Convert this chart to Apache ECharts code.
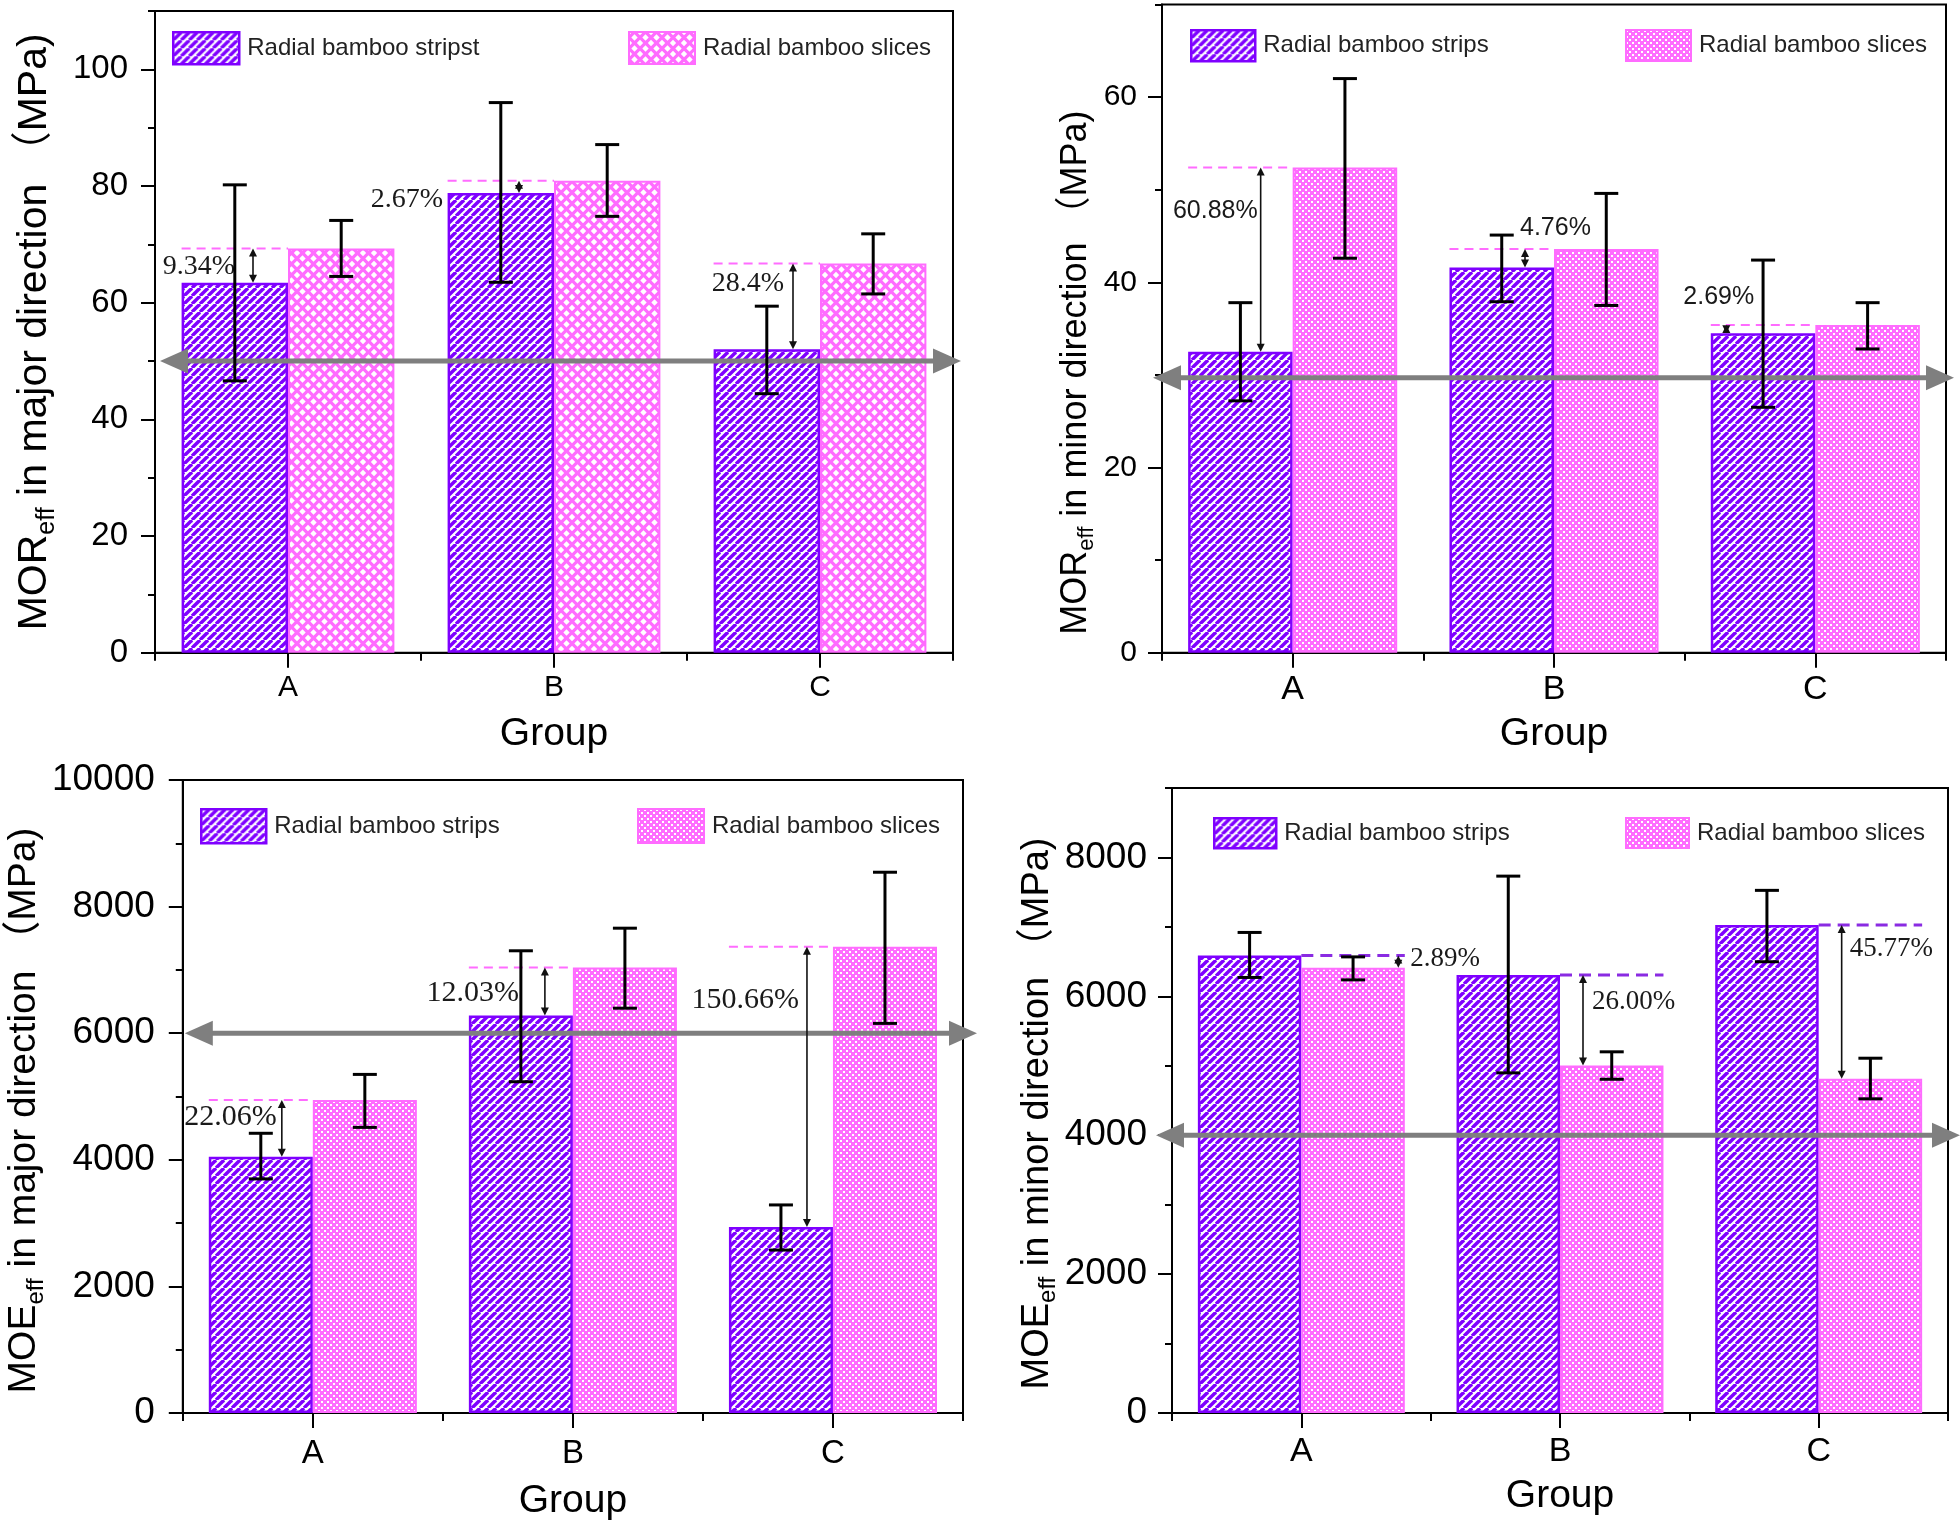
<!DOCTYPE html>
<html><head><meta charset="utf-8">
<script src="https://cdn.jsdelivr.net/npm/echarts@6/dist/echarts.min.js"></script>
<style>html,body{margin:0;padding:0;background:#fff}#c{width:1960px;height:1530px}</style>
</head><body><div id="c"></div>
<script>
// ---------------- DATA ----------------
const categories = ['A', 'B', 'C'];

// Panel 1: MOR_eff in major direction (MPa)
const p1Strips = [63.4, 78.8, 52.0];
const p1Slices = [69.3, 80.9, 66.7];
const p1StripsErr = [[46.6, 80.2], [63.5, 94.3], [44.4, 59.4]];
const p1SlicesErr = [[64.5, 74.1], [74.8, 87.1], [61.5, 71.8]];
const p1Pct = ['9.34%', '2.67%', '28.4%'];
const p1Ticks = [0, 20, 40, 60, 80, 100];
const p1Ref = 50;

// Panel 2: MOR_eff in minor direction (MPa)
const p2Strips = [32.5, 41.6, 34.5];
const p2Slices = [52.4, 43.6, 35.4];
const p2StripsErr = [[27.2, 37.8], [37.9, 45.1], [26.5, 42.4]];
const p2SlicesErr = [[42.6, 62.0], [37.5, 49.6], [32.8, 37.8]];
const p2Pct = ['60.88%', '4.76%', '2.69%'];
const p2Ticks = [0, 20, 40, 60];
const p2Ref = 29.7;

// Panel 3: MOE_eff in major direction (MPa)
const p3Strips = [4050, 6279, 2940];
const p3Slices = [4943, 7039, 7365];
const p3StripsErr = [[3698, 4419], [5233, 7302], [2574, 3287]];
const p3SlicesErr = [[4512, 5349], [6395, 7659], [6155, 8543]];
const p3Pct = ['22.06%', '12.03%', '150.66%'];
const p3Ticks = [0, 2000, 4000, 6000, 8000, 10000];
const p3Ref = 6000;

// Panel 4: MOE_eff in minor direction (MPa)
const p4Strips = [6589, 6307, 7026];
const p4Slices = [6413, 5003, 4813];
const p4StripsErr = [[6272, 6920], [4898, 7731], [6498, 7526]];
const p4SlicesErr = [[6237, 6568], [4806, 5201], [4524, 5109]];
const p4Pct = ['2.89%', '26.00%', '45.77%'];
const p4Ticks = [0, 2000, 4000, 6000, 8000];
const p4Ref = 4000;

// ---------------- STYLE / LAYOUT ----------------
const SANS = '"Liberation Sans", Arial, "Noto Sans CJK SC", sans-serif';
const SERIF = '"Liberation Serif", "Times New Roman", serif';
const PURPLE = '#7f00ff';
const PINK = '#ff6cff';

function stripePattern(color, p, w) {
  const c = document.createElement('canvas'); c.width = p; c.height = p;
  const g = c.getContext('2d');
  g.fillStyle = '#fff'; g.fillRect(0, 0, p, p);
  g.strokeStyle = color; g.lineWidth = w;
  for (const o of [-p, 0, p]) { g.beginPath(); g.moveTo(o, p); g.lineTo(o + p, 0); g.stroke(); }
  return { image: c, repeat: 'repeat' };
}
function crossPattern(color, p, r) {
  const c = document.createElement('canvas'); c.width = p; c.height = p;
  const g = c.getContext('2d');
  g.fillStyle = color; g.fillRect(0, 0, p, p);
  g.fillStyle = '#fff';
  const pts = [[0, 0], [p, 0], [0, p], [p, p], [p / 2, p / 2]];
  for (const [x, y] of pts) { g.beginPath(); g.moveTo(x, y - r); g.lineTo(x + r, y); g.lineTo(x, y + r); g.lineTo(x - r, y); g.closePath(); g.fill(); }
  return { image: c, repeat: 'repeat' };
}
function dotPattern(color, p, s) {
  const c = document.createElement('canvas'); c.width = p; c.height = p;
  const g = c.getContext('2d');
  g.fillStyle = color; g.fillRect(0, 0, p, p);
  g.fillStyle = '#fff';
  g.fillRect(0, 0, s, s); g.fillRect(p / 2, p / 2, s, s);
  return { image: c, repeat: 'repeat' };
}
const purplePat = stripePattern(PURPLE, 8, 3.4);
const pinkCoarse = crossPattern(PINK, 11, 3.2);
const pinkFine = dotPattern(PINK, 6, 2);

const panels = [
  { grid: { left: 155, top: 11, width: 798, height: 641.7 }, max: 110, ticks: p1Ticks, half: 10,
    strips: p1Strips, slices: p1Slices, sErr: p1StripsErr, lErr: p1SlicesErr, pct: p1Pct, ref: p1Ref,
    stripName: 'Radial bamboo stripst', pinkPat: pinkCoarse,
    yName: 'MOR{sub|eff} in major direction （MPa)', yNameFs: 41, yNameGap: 100, yNamePad: 0,
    yFs: 33, yMargin: 27, xFs: 30, xMargin: 20, xNameGap: 62,
    refL: 5, refR: 8, pctFont: SERIF, pctFs: 28, pinkHigher: true,
    ann: [ { ax: -35, lx: -53, ly: 66.1, al: 'right' }, { ax: -35, lx: -111, ly: 77.6, al: 'right' }, { ax: -27, lx: -36, ly: 63.3, al: 'right' } ],
    leg: [ { left: 172, top: 31, w: 66, h: 32 }, { left: 628, top: 31, w: 66, h: 32 } ] },
  { grid: { left: 1162, top: 4.5, width: 784, height: 648.2 }, max: 70, ticks: p2Ticks, half: 10,
    strips: p2Strips, slices: p2Slices, sErr: p2StripsErr, lErr: p2SlicesErr, pct: p2Pct, ref: p2Ref,
    stripName: 'Radial bamboo strips', pinkPat: pinkFine,
    yName: 'MOR{sub|eff} in minor direction （MPa)', yNameFs: 36, yNameGap: 68, yNamePad: 88,
    yFs: 30, yMargin: 25, xFs: 34, xMargin: 20, xNameGap: 62,
    refL: -9, refR: 8, pctFont: SANS, pctFs: 25, pinkHigher: true,
    ann: [ { ax: -32, lx: -35, ly: 47.7, al: 'right' }, { ax: -29, lx: -34, ly: 45.8, al: 'left' }, { ax: -89, lx: -132, ly: 38.4, al: 'left' } ],
    leg: [ { left: 1190, top: 29, w: 64, h: 31 }, { left: 1625, top: 29, w: 65, h: 31 } ] },
  { grid: { left: 178, top: 780, width: 785, height: 633 }, max: 10000, ticks: p3Ticks, half: 1000,
    strips: p3Strips, slices: p3Slices, sErr: p3StripsErr, lErr: p3SlicesErr, pct: p3Pct, ref: p3Ref,
    stripName: 'Radial bamboo strips', pinkPat: pinkFine,
    yName: 'MOE{sub|eff} in major direction （MPa)', yNameFs: 39, yNameGap: 116, yNamePad: 28,
    yFs: 37, yMargin: 28, xFs: 33, xMargin: 24, xNameGap: 69,
    refL: 2, refR: 14, pctFont: SERIF, pctFs: 30, pinkHigher: true,
    ann: [ { ax: -31, lx: -36, ly: 4676, al: 'right' }, { ax: -28, lx: -54, ly: 6635, al: 'right' }, { ax: -26, lx: -34, ly: 6524, al: 'right' } ],
    leg: [ { left: 200, top: 808, w: 65, h: 34 }, { left: 637, top: 808, w: 66, h: 34 } ] },
  { grid: { left: 1172, top: 788, width: 776, height: 625 }, max: 9000, ticks: p4Ticks, half: 1000,
    strips: p4Strips, slices: p4Slices, sErr: p4StripsErr, lErr: p4SlicesErr, pct: p4Pct, ref: p4Ref,
    stripName: 'Radial bamboo strips', pinkPat: pinkFine,
    yName: 'MOE{sub|eff} in minor direction （MPa)', yNameFs: 38, yNameGap: 113, yNamePad: 26,
    yFs: 37, yMargin: 25, xFs: 34, xMargin: 22, xNameGap: 64,
    refL: -16, refR: 12, pctFont: SERIF, pctFs: 27, pinkHigher: false,
    ann: [ { ax: 97, lx: 109, ly: 6538, al: 'left' }, { ax: 23, lx: 32, ly: 5918, al: 'left' }, { ax: 23, lx: 31, ly: 6682, al: 'left' } ],
    leg: [ { left: 1213, top: 817, w: 62, h: 30 }, { left: 1625, top: 817, w: 63, h: 30 } ] }
];

const option = { backgroundColor: '#fff', animation: false, grid: [], xAxis: [], yAxis: [], legend: [], series: [] };

panels.forEach((P, gi) => {
  option.grid.push(Object.assign({ show: true, borderColor: '#000', borderWidth: 2, backgroundColor: 'transparent', containLabel: false }, P.grid));
  option.xAxis.push({
    type: 'category', gridIndex: gi, data: categories, position: 'bottom',
    axisLine: { show: true, lineStyle: { color: '#000', width: 2 } },
    axisTick: { show: true, alignWithLabel: true, length: 15, lineStyle: { color: '#000', width: 2 } },
    axisLabel: { fontSize: P.xFs, margin: P.xMargin, color: '#000', fontFamily: SANS },
    name: 'Group', nameLocation: 'middle', nameGap: P.xNameGap,
    nameTextStyle: { fontSize: 39, color: '#000', fontFamily: SANS }
  });
  option.xAxis.push({
    type: 'category', gridIndex: gi, data: categories, position: 'bottom', offset: 0,
    axisLine: { show: false }, axisTick: { show: true, length: 8, lineStyle: { color: '#000', width: 2 } },
    axisLabel: { show: false }, splitLine: { show: false }
  });
  const subFs = Math.round(P.yNameFs * 0.62);
  option.yAxis.push({
    type: 'value', gridIndex: gi, min: 0, max: P.max, interval: P.ticks[1] - P.ticks[0], position: 'left',
    axisLine: { show: true, lineStyle: { color: '#000', width: 2 } },
    axisTick: { show: true, inside: false, length: 14, lineStyle: { color: '#000', width: 2 }, customValues: P.ticks },
    axisLabel: { fontSize: P.yFs, margin: P.yMargin, color: '#000', fontFamily: SANS, customValues: P.ticks,
      formatter: v => String(v) },
    splitLine: { show: false },
    name: P.yName, nameLocation: 'middle', nameGap: P.yNameGap,
    nameTextStyle: { fontSize: P.yNameFs, color: '#000', fontFamily: SANS, padding: [0, P.yNamePad, 0, 0],
      rich: { sub: { fontSize: subFs, fontFamily: SANS, color: '#000', lineHeight: subFs,
        padding: [Math.round(P.yNameFs * 0.6), 0, 0, 0] } } }
  });
  option.yAxis.push({
    type: 'value', gridIndex: gi, min: 0, max: P.max, interval: P.half, position: 'left', offset: 0,
    axisLine: { show: false }, axisTick: { show: true, inside: false, length: 7, lineStyle: { color: '#000', width: 2 } },
    axisLabel: { show: false }, splitLine: { show: false }
  });

  const xi = gi * 2, yi = gi * 2;
  const purpleStyle = { color: purplePat, borderColor: PURPLE, borderWidth: 2.5 };
  const pinkStyle = { color: P.pinkPat, borderColor: PINK, borderWidth: 2 };

  option.legend.push({ left: P.leg[0].left, top: P.leg[0].top, padding: 0, itemWidth: P.leg[0].w, itemHeight: P.leg[0].h, icon: 'rect',
    textStyle: { fontSize: 24, color: '#222', fontFamily: SANS, padding: [0, 0, 0, 3] },
    data: [{ name: P.stripName, itemStyle: purpleStyle }] });
  option.legend.push({ left: P.leg[1].left, top: P.leg[1].top, padding: 0, itemWidth: P.leg[1].w, itemHeight: P.leg[1].h, icon: 'rect',
    textStyle: { fontSize: 24, color: '#222', fontFamily: SANS, padding: [0, 0, 0, 3] },
    data: [{ name: 'Radial bamboo slices', itemStyle: pinkStyle }] });

  option.series.push({ type: 'bar', name: P.stripName, xAxisIndex: xi, yAxisIndex: yi, data: P.strips,
    barGap: '0%', barCategoryGap: '20%', itemStyle: purpleStyle, z: 2 });
  option.series.push({ type: 'bar', name: 'Radial bamboo slices', xAxisIndex: xi, yAxisIndex: yi, data: P.slices,
    barGap: '0%', barCategoryGap: '20%', itemStyle: pinkStyle, z: 2 });

  // gray reference double arrow
  option.series.push({ type: 'custom', xAxisIndex: xi, yAxisIndex: yi, z: 3, silent: true,
    data: [[0, P.ref]],
    renderItem: (params, api) => {
      const cs = params.coordSys;
      const y = api.coord([0, api.value(1)])[1];
      const x1 = cs.x + P.refL, x2 = cs.x + cs.width + P.refR;
      const L = 28, H = 12.5, col = '#7f7f7f';
      return { type: 'group', children: [
        { type: 'line', shape: { x1: x1 + L - 2, y1: y, x2: x2 - L + 2, y2: y }, style: { stroke: col, lineWidth: 5 } },
        { type: 'polygon', shape: { points: [[x1, y], [x1 + L, y - H], [x1 + L, y + H]] }, style: { fill: col } },
        { type: 'polygon', shape: { points: [[x2, y], [x2 - L, y - H], [x2 - L, y + H]] }, style: { fill: col } }
      ] };
    } });

  // percentage annotations
  const annData = categories.map((c, i) => P.pinkHigher ? [i, P.strips[i], P.slices[i]] : [i, P.slices[i], P.strips[i]]);
  option.series.push({ type: 'custom', xAxisIndex: xi, yAxisIndex: yi, z: 4, silent: true, data: annData,
    renderItem: (params, api) => {
      const A = P.ann[params.dataIndex];
      const idx = api.value(0);
      const band = api.size([1, 0])[0];
      const cx = api.coord([idx, 0])[0];
      const yFrom = api.coord([idx, api.value(1)])[1];
      const yTo = api.coord([idx, api.value(2)])[1];
      const yLab = api.coord([idx, A.ly])[1];
      const dashCol = P.pinkHigher ? PINK : '#8a2be2';
      const dx1 = P.pinkHigher ? cx - band * 0.4 : cx;
      const dx2 = P.pinkHigher ? cx : cx + band * 0.4;
      const ax = cx + A.ax;
      const hl = 8, hw = 4, col = '#111';
      const top = Math.min(yFrom, yTo), bot = Math.max(yFrom, yTo);
      return { type: 'group', children: [
        { type: 'line', shape: { x1: dx1, y1: yTo, x2: dx2, y2: yTo },
          style: { stroke: dashCol, lineWidth: P.pinkHigher ? 2 : 3, lineDash: P.pinkHigher ? [9, 6] : [12, 7] } },
        { type: 'line', shape: { x1: ax, y1: top + hl * 0.8, x2: ax, y2: bot - hl * 0.8 }, style: { stroke: col, lineWidth: 1.6 } },
        { type: 'polygon', shape: { points: [[ax, top], [ax - hw, top + hl], [ax + hw, top + hl]] }, style: { fill: col } },
        { type: 'polygon', shape: { points: [[ax, bot], [ax - hw, bot - hl], [ax + hw, bot - hl]] }, style: { fill: col } },
        { type: 'text', x: cx + A.lx, y: yLab,
          style: { text: P.pct[params.dataIndex], fontSize: P.pctFs, fontFamily: P.pctFont, fill: '#1a1a1a', align: A.al, verticalAlign: 'middle' } }
      ] };
    } });

  // error bars
  [[P.sErr, -1], [P.lErr, 1]].forEach(([err, side]) => {
    option.series.push({ type: 'custom', xAxisIndex: xi, yAxisIndex: yi, z: 5, silent: true,
      data: err.map((e, i) => [i, e[0], e[1]]),
      renderItem: (params, api) => {
        const idx = api.value(0);
        const band = api.size([1, 0])[0];
        const x = api.coord([idx, 0])[0] + side * band * 0.2;
        const yLo = api.coord([idx, api.value(1)])[1];
        const yHi = api.coord([idx, api.value(2)])[1];
        const hw = 12, st = { stroke: '#000', lineWidth: 3 };
        return { type: 'group', children: [
          { type: 'line', shape: { x1: x, y1: yLo, x2: x, y2: yHi }, style: st },
          { type: 'line', shape: { x1: x - hw, y1: yHi, x2: x + hw, y2: yHi }, style: st },
          { type: 'line', shape: { x1: x - hw, y1: yLo, x2: x + hw, y2: yLo }, style: st }
        ] };
      } });
  });
});

const chart = echarts.init(document.getElementById('c'), null, { renderer: 'canvas', width: 1960, height: 1530 });
chart.setOption(option);
</script>
</body></html>
